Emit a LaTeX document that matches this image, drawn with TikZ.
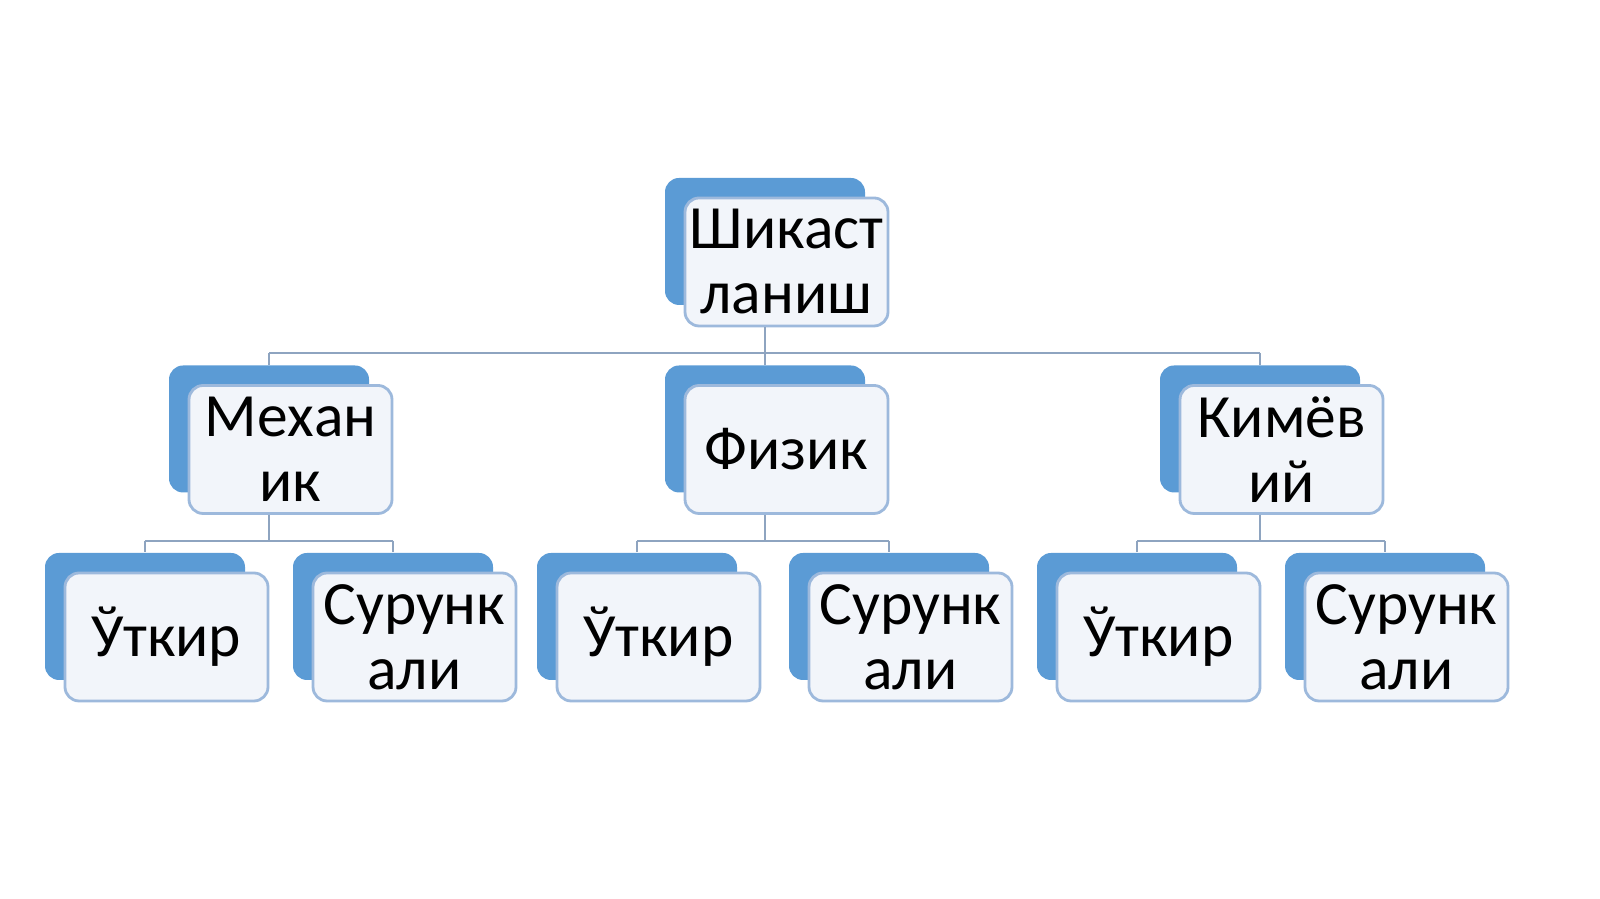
\documentclass[tikz,border=0pt]{standalone}
\usepackage{fontspec}
\setmainfont{Carlito}
\usetikzlibrary{calc,positioning}
\definecolor{cardblue}{HTML}{5B9BD5}
\definecolor{cardedge}{HTML}{9DB9DC}
\definecolor{cardface}{HTML}{F2F5FA}
\definecolor{linkgray}{HTML}{8EA4C0}

\tikzset{
	back/.style={fill=cardblue, draw=none, rounded corners=4pt, minimum width=2cm, minimum height=1.27cm, inner sep=0pt},
	front/.style={fill=cardface, draw=cardedge, line width=0.8pt, rounded corners=4pt, minimum width=2.03cm, minimum height=1.28cm, inner sep=0pt, align=center, font=\fontsize{17.5}{18.5}\selectfont},
	link/.style={draw=linkgray, line width=0.7pt}
}
% card = blue back plate + white front box
\newcommand{\card}[4]{%
	\node[back] (#1B) at (#2,#3) {};
	\node[front] (#1) at ($(#1B)+(0.215,-0.205)$) {#4};
}

\begin{document}
\begin{tikzpicture}
	\useasboundingbox (0,0) rectangle (16,8.99);
	
	\card{top}{7.65}{6.575}{Шикаст\\ланиш}
	
	\card{mech}{2.69}{4.70}{Механ\\ик}
	\card{phys}{7.65}{4.70}{Физик}
	\card{chem}{12.60}{4.70}{Кимёв\\ий}
	
	\card{mechA}{1.45}{2.825}{Ўткир}
	\card{mechC}{3.93}{2.825}{Сурунк\\али}
	\card{physA}{6.37}{2.825}{Ўткир}
	\card{physC}{8.89}{2.825}{Сурунк\\али}
	\card{chemA}{11.37}{2.825}{Ўткир}
	\card{chemC}{13.85}{2.825}{Сурунк\\али}
	
	\coordinate (j1) at (0,5.46);
	\coordinate (j2) at (0,3.58);
	
	\draw[link] (topB |- top.south) -- (topB |- j1);
	\draw[link] (mechB |- j1) -- (chemB |- j1);
	\foreach \n in {mech,phys,chem}
		\draw[link] (\n B |- j1) -- (\n B.north);
	\foreach \n in {mech,phys,chem}{
		\draw[link] (\n B |- \n.south) -- (\n B |- j2);
		\draw[link] (\n AB |- j2) -- (\n CB |- j2);
		\draw[link] (\n AB |- j2) -- (\n AB.north);
		\draw[link] (\n CB |- j2) -- (\n CB.north);
	}
\end{tikzpicture}
\end{document}
